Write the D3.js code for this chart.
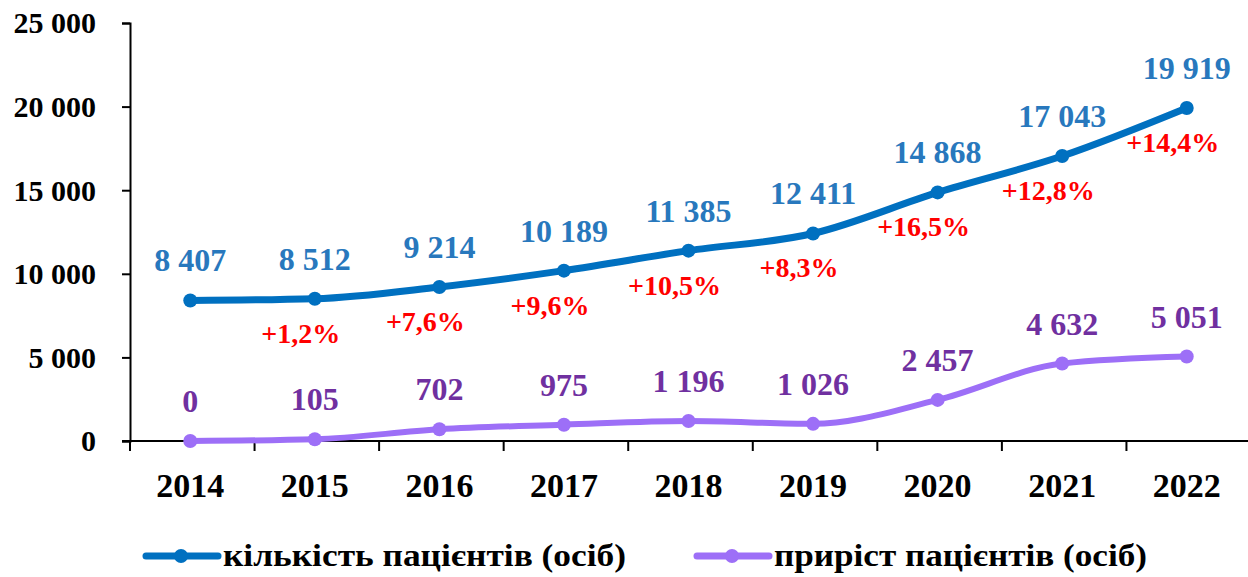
<!DOCTYPE html>
<html>
<head>
<meta charset="utf-8">
<script src="https://cdn.jsdelivr.net/npm/d3@7"></script>
<style>
  body { margin: 0; background: #fff; }
</style>
</head>
<body>
<script>
var years = ["2014", "2015", "2016", "2017", "2018", "2019", "2020", "2021", "2022"];
var patients = [8407, 8512, 9214, 10189, 11385, 12411, 14868, 17043, 19919];
var growth = [0, 105, 702, 975, 1196, 1026, 2457, 4632, 5051];
var growthPct = [null, "+1,2%", "+7,6%", "+9,6%", "+10,5%", "+8,3%", "+16,5%", "+12,8%", "+14,4%"];
var yTicks = [0, 5000, 10000, 15000, 20000, 25000];
var seriesNames = ["кількість пацієнтів (осіб)", "приріст пацієнтів (осіб)"];

var width = 1248, height = 577;
var serif = "Liberation Serif";
var blue = "#0070c0", blueText = "#2878bd";
var purple = "#9d6ff7", purpleText = "#7030a0";

var fmt = function(v) { return d3.format(",")(v).replace(/,/g, " "); };

var svg = d3.select("body").append("svg")
  .attr("width", width)
  .attr("height", height)
  .attr("font-family", serif)
  .attr("font-weight", "bold");

var x = d3.scaleBand().domain(years).range([130, 1251]);
var y = d3.scaleLinear().domain([0, 25000]).range([441, 23]);
var cx = function(d, i) { return x(years[i]) + x.bandwidth() / 2 - 2; };

// y axis
var yAxis = svg.append("g")
  .attr("transform", "translate(130,0)")
  .call(d3.axisLeft(y).tickValues(yTicks).tickSize(8).tickPadding(26).tickFormat(fmt))
  .attr("font-family", serif)
  .attr("font-size", null);
yAxis.select(".domain").attr("stroke", "#000").attr("stroke-width", 2);
yAxis.selectAll(".tick line").attr("stroke-width", 2);
yAxis.selectAll("text")
  .attr("font-family", serif)
  .attr("font-size", 30)
  .attr("dy", "0.33em")
  .attr("fill", "#000");

// x axis
var xAxis = svg.append("g")
  .attr("transform", "translate(0,441)");
xAxis.append("line")
  .attr("x1", 122).attr("x2", width)
  .attr("stroke", "#000").attr("stroke-width", 2);
xAxis.selectAll("line.tk")
  .data(years)
  .enter().append("line")
  .attr("class", "tk")
  .attr("x1", function(d) { return x(d); })
  .attr("x2", function(d) { return x(d); })
  .attr("y1", 0).attr("y2", 10)
  .attr("stroke", "#000").attr("stroke-width", 2);
xAxis.selectAll("text")
  .data(years)
  .enter().append("text")
  .attr("x", function(d, i) { return cx(d, i); })
  .attr("y", 56)
  .attr("text-anchor", "middle")
  .attr("font-family", serif)
  .attr("font-size", 34)
  .text(function(d) { return d; });

var line = d3.line()
  .x(cx)
  .y(function(d) { return y(d); })
  .curve(d3.curveMonotoneX);

function drawSeries(values, color, textColor, width) {
  svg.append("path")
    .datum(values)
    .attr("d", line)
    .attr("fill", "none")
    .attr("stroke", color)
    .attr("stroke-width", width)
    .attr("stroke-linecap", "round");
  svg.append("g").selectAll("circle")
    .data(values)
    .enter().append("circle")
    .attr("cx", cx)
    .attr("cy", function(d) { return y(d); })
    .attr("r", 7)
    .attr("fill", color);
  svg.append("g").selectAll("text")
    .data(values)
    .enter().append("text")
    .attr("x", cx)
    .attr("y", function(d) { return y(d) - 29; })
    .attr("text-anchor", "middle")
    .attr("font-family", serif)
    .attr("font-size", 32)
    .attr("fill", textColor)
    .text(fmt);
}

drawSeries(growth, purple, purpleText, 6);
drawSeries(patients, blue, blueText, 7);

// percentage growth labels
svg.append("g").selectAll("text")
  .data(patients)
  .enter().append("text")
  .filter(function(d, i) { return growthPct[i] !== null; })
  .attr("x", function(d, i) { return cx(d, i + 1) - 14; })
  .attr("y", function(d) { return y(d) + 44; })
  .attr("text-anchor", "middle")
  .attr("font-family", serif)
  .attr("font-size", 28)
  .attr("fill", "#ff0000")
  .text(function(d) { return growthPct[patients.indexOf(d)]; });

// legend
var legend = svg.append("g").attr("transform", "translate(0,556)");
var legendItems = [
  { name: seriesNames[0], color: blue, x: 146, len: 403 },
  { name: seriesNames[1], color: purple, x: 697, len: 373 }
];
legendItems.forEach(function(d) {
  legend.append("line")
    .attr("x1", d.x).attr("x2", d.x + 72)
    .attr("stroke", d.color).attr("stroke-width", 7)
    .attr("stroke-linecap", "round");
  legend.append("circle")
    .attr("cx", d.x + 35).attr("r", 7).attr("fill", d.color);
  legend.append("text")
    .attr("x", d.x + 77).attr("y", 10)
    .attr("font-family", serif)
    .attr("font-size", 32)
    .attr("textLength", d.len)
    .attr("lengthAdjust", "spacingAndGlyphs")
    .text(d.name);
});
</script>
</body>
</html>
